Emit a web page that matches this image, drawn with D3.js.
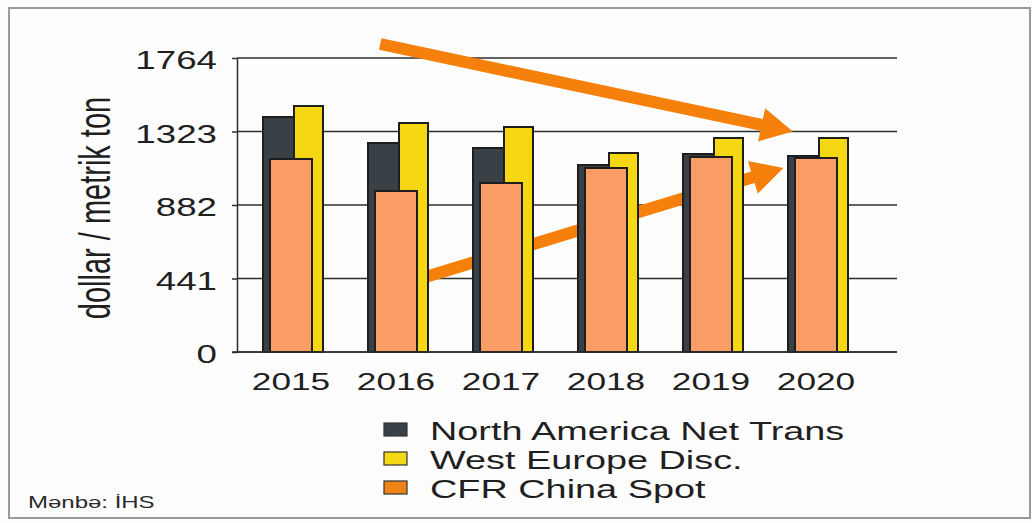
<!DOCTYPE html>
<html>
<head>
<meta charset="utf-8">
<script src="https://cdn.jsdelivr.net/npm/d3@7"></script>
<style>
  html, body { margin: 0; padding: 0; background: #ffffff; }
  svg { display: block; font-family: "Liberation Sans", Arial, sans-serif; }
</style>
</head>
<body>
<svg id="chart" width="1032" height="523"></svg>
<script>
// Years on the x axis
const years = ["2015", "2016", "2017", "2018", "2019", "2020"];
// Prices, dollar per metric ton
const northAmerica = [1410, 1254, 1224, 1122, 1188, 1176];
const westEurope   = [1476, 1374, 1350, 1194, 1284, 1284];
const chinaSpot    = [1158, 966, 1014, 1104, 1170, 1164];
// Axis ticks
const yTicks = [0, 441, 882, 1323, 1764];
// Series names for the legend
const seriesNames = ["North America Net Trans", "West Europe Disc.", "CFR China Spot"];
// Trend arrows: [year, offset within band (fraction of step), value]
const trendArrows = [
  { from: ["2016", -0.15, 1848], to: ["2020", -0.22, 1323] },
  { from: ["2016", 0.28, 450],  to: ["2020", -0.31, 1104] }
];

const W = 1032, H = 523;
const SX = 1.47; // horizontal text stretch
const svg = d3.select("#chart");

const colors = {
  dark: "#3a4146", yellow: "#f6d714", salmon: "#f99c66",
  legendOrange: "#ee8417", arrow: "#f5800b", outline: "#1e1e1e", ink: "#1f1f1f"
};

// frame
svg.append("rect").attr("x", 0).attr("y", 0).attr("width", W).attr("height", H).attr("fill", "#fdfdfd");
svg.append("rect").attr("x", 9).attr("y", 8).attr("width", 1021).attr("height", 510)
  .attr("fill", "none").attr("stroke", "#9a9a9a").attr("stroke-width", 2);

const plot = { left: 237, right: 897, top: 58, bottom: 352 };

const y = d3.scaleLinear().domain([0, 1764]).range([plot.bottom, plot.top]);
const x = d3.scaleBand().domain(years).range([238.5, 868.5]).padding(0);
const step = x.step();
const cx = yr => x(yr) + x.bandwidth() / 2;

// gridlines
svg.append("g").selectAll("line").data(yTicks).join("line")
  .attr("x1", plot.left).attr("x2", plot.right)
  .attr("y1", d => y(d)).attr("y2", d => y(d))
  .attr("stroke", "#2e2e2e").attr("stroke-width", 1.5);

// y axis
const yAxis = svg.append("g").attr("transform", `translate(${plot.left},0)`)
  .call(d3.axisLeft(y).tickValues(yTicks).tickFormat(d3.format("d"))
    .tickSize(5).tickSizeOuter(0).tickPadding(0));
yAxis.select(".domain").attr("stroke", "#2e2e2e").attr("stroke-width", 1.5);
yAxis.selectAll(".tick line").attr("stroke", "#2e2e2e").attr("stroke-width", 1.5);
yAxis.selectAll(".tick text")
  .attr("x", -20 / SX).attr("dy", "0.42em")
  .attr("transform", `scale(${SX},1)`)
  .attr("font-size", 25).attr("fill", colors.ink)
  .attr("font-family", "'Liberation Sans', Arial, sans-serif");

// trend arrows (under the bars)
function arrowPath(p0, p1, shaftW, headL, headW) {
  const dx = p1[0] - p0[0], dy = p1[1] - p0[1];
  const len = Math.hypot(dx, dy);
  const ux = dx / len, uy = dy / len, nx = -uy, ny = ux;
  const bx = p1[0] - ux * headL, by = p1[1] - uy * headL;
  const pts = [
    [p0[0] + nx * shaftW / 2, p0[1] + ny * shaftW / 2],
    [bx + nx * shaftW / 2, by + ny * shaftW / 2],
    [bx + nx * headW, by + ny * headW],
    [p1[0], p1[1]],
    [bx - nx * headW, by - ny * headW],
    [bx - nx * shaftW / 2, by - ny * shaftW / 2],
    [p0[0] - nx * shaftW / 2, p0[1] - ny * shaftW / 2]
  ];
  return "M" + pts.map(p => p.join(",")).join("L") + "Z";
}
const pos = ([yr, off, v]) => [cx(yr) + off * step, y(v)];
svg.append("g").selectAll("path").data(trendArrows).join("path")
  .attr("d", d => arrowPath(pos(d.from), pos(d.to), 12, 32, 17))
  .attr("fill", colors.arrow);

// bars: dark, yellow, then salmon on top
const barSpecs = [
  { values: northAmerica, fill: colors.dark,   x0: -28, w: 32 },
  { values: westEurope,   fill: colors.yellow, x0: 3,   w: 29 },
  { values: chinaSpot,    fill: colors.salmon, x0: -21, w: 42 }
];
barSpecs.forEach(s => {
  svg.append("g").selectAll("rect").data(years.map((yr, i) => ({ yr, v: s.values[i] }))).join("rect")
    .attr("x", d => cx(d.yr) + s.x0)
    .attr("y", d => y(d.v))
    .attr("width", s.w)
    .attr("height", d => y(0) - y(d.v))
    .attr("fill", s.fill)
    .attr("stroke", colors.outline).attr("stroke-width", 2);
});

// baseline redrawn over the bar outlines
svg.append("line").attr("x1", plot.left - 5).attr("x2", plot.right)
  .attr("y1", y(0)).attr("y2", y(0)).attr("stroke", "#2e2e2e").attr("stroke-width", 1.5);

// year labels
svg.append("g").selectAll("text").data(years).join("text")
  .attr("transform", d => `translate(${cx(d)},390) scale(${SX},1)`)
  .attr("text-anchor", "middle").attr("font-size", 24).attr("fill", colors.ink)
  .text(d => d);

// y axis title
svg.append("text")
  .attr("transform", `translate(94,208) scale(1.55,1) rotate(-90)`)
  .attr("text-anchor", "middle").attr("dy", "0.36em")
  .attr("font-size", 29).attr("fill", colors.ink)
  .text("dollar / metrik ton");

// legend
const legendFills = [colors.dark, colors.yellow, colors.legendOrange];
const lg = svg.append("g");
seriesNames.forEach((name, i) => {
  const by = 440 + i * 29;
  lg.append("rect").attr("x", 384).attr("y", by - 17).attr("width", 23).attr("height", 13)
    .attr("fill", legendFills[i]).attr("stroke", "#333").attr("stroke-width", 1.2);
  lg.append("text").attr("transform", `translate(430,${by}) scale(${SX * 1.03},1)`)
    .attr("font-size", 25).attr("fill", colors.ink).text(name);
});

// source note
svg.append("text").attr("transform", `translate(28,508) scale(1.5,1)`)
  .attr("font-size", 16).attr("fill", "#2a2a2a").text("Mənbə: İHS");
</script>
</body>
</html>
